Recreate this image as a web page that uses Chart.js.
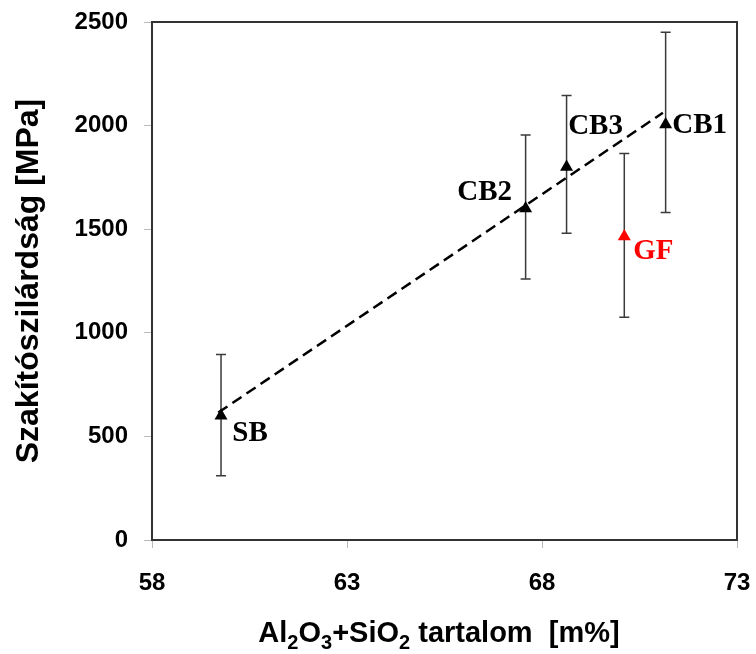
<!DOCTYPE html>
<html>
<head>
<meta charset="utf-8">
<script src="https://cdn.jsdelivr.net/npm/chart.js@4"></script>
<style>
  html, body { margin: 0; padding: 0; background: #fff; }
  #wrap { width: 756px; height: 654px; }
</style>
</head>
<body>
<div id="wrap"><canvas id="chart" width="756" height="654"></canvas></div>
<script>
const samples = ['SB', 'CB2', 'CB3', 'GF', 'CB1'];
const oxideContent = [59.77, 67.58, 68.63, 70.11, 71.17];
const strength = [600, 1600, 1800, 1465, 2005];
const strengthLow = [310, 1260, 1480, 1075, 1580];
const strengthHigh = [895, 1955, 2145, 1865, 2450];
const trendX = [59.7, 71.1];
const trendY = [615, 2062];
const xTicks = [58, 63, 68, 73];
const yTicks = [0, 500, 1000, 1500, 2000, 2500];

const sans = "'Liberation Sans', Arial, sans-serif";
const serif = "'Liberation Serif', 'Times New Roman', serif";

// where each sample name sits, relative to its marker
const labelOffset = {
    SB: [29, 18],
    CB2: [-41, -16],
    CB3: [29, -41],
    CB1: [34, 1],
    GF: [29, 15],
};

const extras = {
    id: 'extras',
    beforeDatasetsDraw(chart) {
        const { ctx, chartArea: a, scales: { x, y } } = chart;
        ctx.save();
        ctx.strokeStyle = '#333';
        ctx.lineWidth = 2;
        ctx.strokeRect(a.left, a.top, a.right - a.left, a.bottom - a.top);

        // error bars
        ctx.strokeStyle = '#3a3a3a';
        ctx.lineWidth = 1.5;
        samples.forEach((s, i) => {
            const px = x.getPixelForValue(oxideContent[i]);
            const top = y.getPixelForValue(strengthHigh[i]);
            const bot = y.getPixelForValue(strengthLow[i]);
            ctx.beginPath();
            ctx.moveTo(px, top); ctx.lineTo(px, bot);
            ctx.moveTo(px - 5, top); ctx.lineTo(px + 5, top);
            ctx.moveTo(px - 5, bot); ctx.lineTo(px + 5, bot);
            ctx.stroke();
        });
        ctx.restore();
    },
    afterDatasetsDraw(chart) {
        const { ctx, scales: { x, y } } = chart;
        ctx.save();
        ctx.font = 'bold 29px ' + serif;
        ctx.textAlign = 'center';
        ctx.textBaseline = 'middle';
        samples.forEach((s, i) => {
            const px = x.getPixelForValue(oxideContent[i]);
            const py = y.getPixelForValue(strength[i]);
            const [dx, dy] = labelOffset[s];
            ctx.fillStyle = s === 'GF' ? '#ff0000' : '#000';
            ctx.fillText(s, px + dx, py + dy);
        });
        ctx.restore();
    },
    afterDraw(chart) {
        // x axis title with subscripts
        const { ctx } = chart;
        const parts = [['Al', 0], ['2', 1], ['O', 0], ['3', 1], ['+SiO', 0], ['2', 1], [' tartalom  [m%]', 0]];
        const big = 'bold 29px ' + sans;
        const small = 'bold 20px ' + sans;
        ctx.save();
        ctx.fillStyle = '#000';
        ctx.textBaseline = 'alphabetic';
        let w = 0;
        parts.forEach(([t, sub]) => { ctx.font = sub ? small : big; w += ctx.measureText(t).width; });
        let cx = 439 - w / 2;
        const base = 642;
        parts.forEach(([t, sub]) => {
            ctx.font = sub ? small : big;
            ctx.fillText(t, cx, sub ? base + 7 : base);
            cx += ctx.measureText(t).width;
        });
        ctx.restore();
    }
};

new Chart(document.getElementById('chart'), {
    type: 'scatter',
    data: {
        datasets: [
            {
                type: 'line',
                data: trendX.map((v, i) => ({ x: v, y: trendY[i] })),
                borderColor: '#000',
                borderWidth: 2.5,
                borderDash: [11, 6],
                pointRadius: 0,
                fill: false,
            },
            {
                data: oxideContent.map((v, i) => ({ x: v, y: strength[i] })),
                pointStyle: 'triangle',
                pointRadius: 7.5,
                pointBorderWidth: 0,
                pointBackgroundColor: samples.map(s => s === 'GF' ? '#ff0000' : '#000'),
                pointBorderColor: samples.map(s => s === 'GF' ? '#ff0000' : '#000'),
            },
        ],
    },
    options: {
        responsive: false,
        animation: false,
        layout: { padding: { top: 22, right: 19, left: 0, bottom: 0 } },
        plugins: { legend: { display: false }, tooltip: { enabled: false } },
        scales: {
            x: {
                type: 'linear',
                min: 58,
                max: 73,
                afterBuildTicks: s => { s.ticks = xTicks.map(v => ({ value: v })); },
                afterFit: s => { s.height = 114; s.paddingLeft = 0; s.paddingRight = 0; },
                grid: { drawOnChartArea: false, tickLength: 8, color: '#bbb' },
                border: { color: '#333', width: 2 },
                ticks: { color: '#000', padding: 21, font: { family: sans, size: 24, weight: 'bold' }, callback: v => String(v) },
            },
            y: {
                min: 0,
                max: 2500,
                afterBuildTicks: s => { s.ticks = yTicks.map(v => ({ value: v })); },
                afterFit: s => { s.width = 152; s.paddingTop = 0; s.paddingBottom = 0; },
                grid: { drawOnChartArea: false, tickLength: 8, color: '#bbb' },
                border: { color: '#333', width: 2 },
                ticks: { color: '#000', padding: 16, font: { family: sans, size: 24, weight: 'bold' }, callback: v => String(v) },
                title: {
                    display: true,
                    text: 'Szakítószilárdság [MPa]',
                    color: '#000',
                    padding: { top: 10, bottom: 0 },
                    font: { family: sans, size: 32, weight: 'bold' },
                },
            },
        },
    },
    plugins: [extras],
});
</script>
</body>
</html>
